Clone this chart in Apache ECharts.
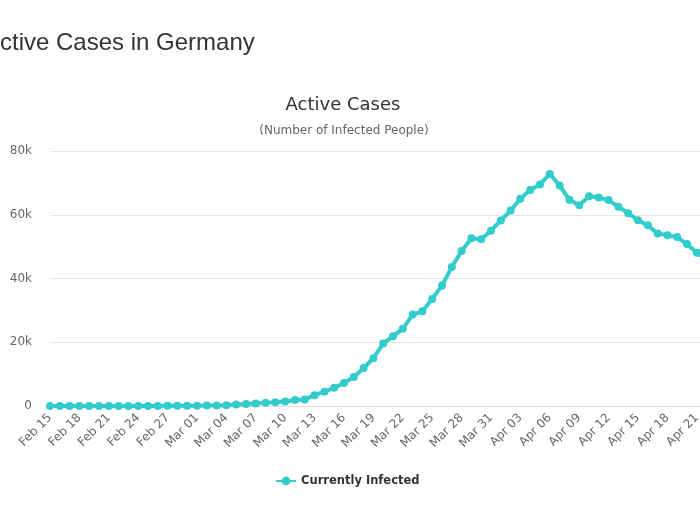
<!DOCTYPE html>
<html>
<head>
<meta charset="utf-8">
<script src="https://cdn.jsdelivr.net/npm/echarts@6/dist/echarts.min.js"></script>
<style>
html,body{margin:0;padding:0;background:#fff;overflow:hidden;width:700px;height:525px;}
#wrap{position:absolute;left:0;top:0;width:700px;height:525px;overflow:hidden;}
#chart{position:absolute;left:0;top:0;width:760px;height:525px;}
</style>
</head>
<body>
<div id="wrap"><div id="chart"></div></div>
<script>
const pageTitle = "Active Cases in Germany";
const chartTitle = "Active Cases";
const chartSubtitle = "(Number of Infected People)";
const seriesName = "Currently Infected";

const dates = [
 "Feb 15","Feb 16","Feb 17","Feb 18","Feb 19","Feb 20","Feb 21","Feb 22","Feb 23","Feb 24",
 "Feb 25","Feb 26","Feb 27","Feb 28","Feb 29","Mar 01","Mar 02","Mar 03","Mar 04","Mar 05",
 "Mar 06","Mar 07","Mar 08","Mar 09","Mar 10","Mar 11","Mar 12","Mar 13","Mar 14","Mar 15",
 "Mar 16","Mar 17","Mar 18","Mar 19","Mar 20","Mar 21","Mar 22","Mar 23","Mar 24","Mar 25",
 "Mar 26","Mar 27","Mar 28","Mar 29","Mar 30","Mar 31","Apr 01","Apr 02","Apr 03","Apr 04",
 "Apr 05","Apr 06","Apr 07","Apr 08","Apr 09","Apr 10","Apr 11","Apr 12","Apr 13","Apr 14",
 "Apr 15","Apr 16","Apr 17","Apr 18","Apr 19","Apr 20","Apr 21","Apr 22"
];

const activeCases = [
 13,13,13,13,14,14,14,14,14,14,
 16,25,44,46,66,113,142,180,246,466,
 654,783,1020,1160,1440,1880,2050,3400,4500,5700,
 7200,9100,11900,15000,19600,21900,24200,28700,29700,33600,
 37800,43600,48600,52600,52300,55000,58200,61300,65000,67800,
 69500,72800,69200,64700,63000,65800,65400,64600,62500,60500,
 58300,56700,54100,53600,53000,50800,48100,45800
];

const yTicks = [0, 20000, 40000, 60000, 80000];
const yTickLabels = ["0", "20k", "40k", "60k", "80k"];

const chart = echarts.init(document.getElementById('chart'), null, {renderer: 'canvas'});
const teal = '#33cccc';
const axisFont = '"DejaVu Sans", sans-serif';

chart.setOption({
  animation: false,
  backgroundColor: '#fff',
  graphic: [
    {type: 'text', left: -16, top: 31, style: {text: pageTitle, font: '24px "Liberation Sans", Arial, sans-serif', fill: '#333'}},
    {type: 'text', x: 343, y: 105, style: {text: chartTitle, font: '18px ' + axisFont, fill: '#333', align: 'center', verticalAlign: 'middle'}},
    {type: 'text', x: 344, y: 131, style: {text: chartSubtitle, font: '12px ' + axisFont, fill: '#666', align: 'center', verticalAlign: 'middle'}}
  ],
  legend: {
    data: [seriesName],
    left: 270,
    top: 470,
    itemWidth: 20,
    itemHeight: 11,
    itemGap: 6,
    textStyle: {fontFamily: axisFont, fontWeight: 'bold', fontSize: 11.5, color: '#333'}
  },
  grid: {left: 50, top: 151, width: 656.6, bottom: 119, containLabel: false},
  xAxis: {
    type: 'category',
    data: dates,
    boundaryGap: false,
    axisLine: {show: true, lineStyle: {color: '#dcdcdc'}},
    axisTick: {show: false},
    splitLine: {show: false},
    axisLabel: {interval: 2, rotate: 45, margin: 10, fontFamily: axisFont, fontSize: 12, color: '#666'}
  },
  yAxis: {
    type: 'value',
    min: 0,
    max: 80000,
    interval: 20000,
    axisLine: {show: false},
    axisTick: {show: false},
    splitLine: {lineStyle: {color: '#e6e6e6'}},
    axisLabel: {
      margin: 18, fontFamily: axisFont, fontSize: 12, color: '#666',
      formatter: function (v) { const i = yTicks.indexOf(v); return i >= 0 ? yTickLabels[i] : ''; }
    }
  },
  series: [{
    name: seriesName,
    type: 'line',
    data: activeCases,
    symbol: 'circle',
    symbolSize: 8,
    showAllSymbol: true,
    lineStyle: {color: teal, width: 4},
    itemStyle: {color: teal},
    emphasis: {disabled: true}
  }]
});
</script>
</body>
</html>
